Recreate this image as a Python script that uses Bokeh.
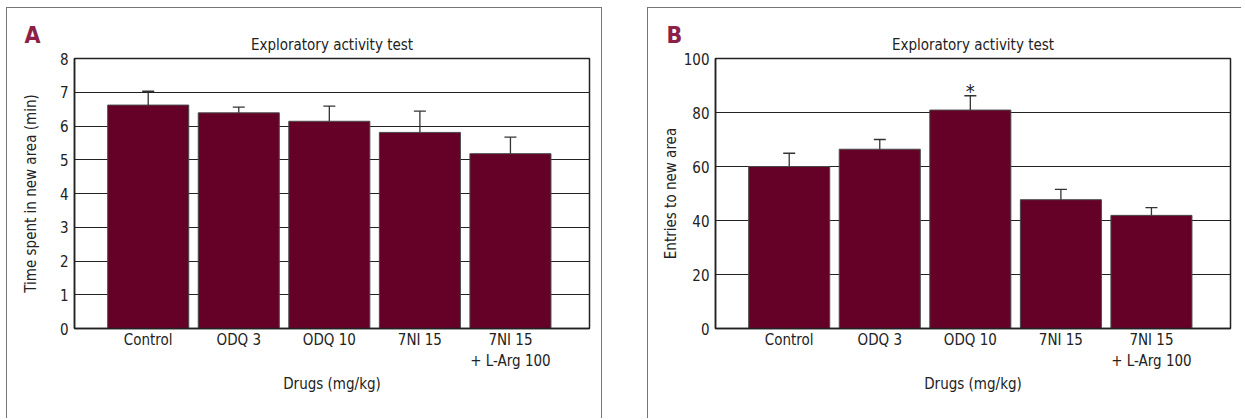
from bokeh.plotting import figure
from bokeh.layouts import row
from bokeh.models import FixedTicker, Range1d, Whisker, TeeHead, ColumnDataSource, Label, Title
from bokeh.embed import file_html
from bokeh.resources import INLINE

# ---- data ----
categories = ["Control", "ODQ 3", "ODQ 10", "7NI 15", "7NI 15\n+ L-Arg 100"]
time_mean = [6.62, 6.39, 6.14, 5.81, 5.18]
time_sem = [0.41, 0.17, 0.45, 0.63, 0.49]
entries_mean = [60.0, 66.4, 80.9, 47.7, 41.9]
entries_sem = [4.9, 3.6, 5.3, 3.8, 2.9]
time_ticks = [0, 1, 2, 3, 4, 5, 6, 7, 8]
entries_ticks = [0, 20, 40, 60, 80, 100]
signif = ["", "", "*", "", ""]

FONT = "DejaVu Sans Condensed"
BAR = "#650026"
INK = "#222222"
FS = "15px"


def panel(letter, letter_offset, means, sems, ymax, yticks, ylabel, ylab_standoff, star_y,
          right_margin, width, styles):
    xs = list(range(len(categories)))
    p = figure(width=width, height=411, output_backend="svg", toolbar_location=None,
               x_range=Range1d(-0.814, 4.873), y_range=Range1d(0, ymax),
               min_border_left=67, min_border_right=right_margin,
               min_border_top=50, min_border_bottom=91, styles=styles)
    p.add_layout(Title(text="Exploratory activity test", align="center",
                       text_font=FONT, text_font_size=FS, text_font_style="normal",
                       text_color=INK, standoff=9), "above")
    p.add_layout(Title(text=letter, align="left", offset=letter_offset,
                       text_baseline="alphabetic", standoff=-37,
                       text_font=FONT, text_font_size="23px", text_font_style="bold",
                       text_color="#8c2147"), "above")

    src = ColumnDataSource(dict(x=xs, top=means, upper=[m + s for m, s in zip(means, sems)]))
    p.vbar(x="x", top="top", bottom=0, width=0.895, source=src,
           fill_color=BAR, line_color="#4a4a4a", line_width=1)
    w = Whisker(base="x", lower="top", upper="upper", source=src, dimension="height",
                line_color="#333333", line_width=1.3, level="overlay",
                upper_head=TeeHead(size=12, line_color="#333333", line_width=1.3),
                lower_head=None)
    p.add_layout(w)

    for i, s in enumerate(signif):
        if s and star_y is not None:
            p.add_layout(Label(x=xs[i], y=star_y, text=s, text_align="center",
                               text_baseline="alphabetic", text_font=FONT,
                               text_font_size="20px", text_color=INK))

    p.xgrid.grid_line_color = None
    p.ygrid.grid_line_color = INK
    p.ygrid.grid_line_width = 1.2
    p.yaxis.ticker = FixedTicker(ticks=yticks)
    p.xaxis.ticker = FixedTicker(ticks=xs)
    p.xaxis.major_label_overrides = {i: c for i, c in enumerate(categories)}
    for ax in (p.xaxis[0], p.yaxis[0]):
        ax.major_tick_in = 0
        ax.major_tick_out = 0
        ax.minor_tick_in = 0
        ax.minor_tick_out = 0
        ax.axis_line_color = INK
        ax.axis_line_width = 1.5
        ax.major_label_text_font = FONT
        ax.major_label_text_font_size = FS
        ax.major_label_text_color = INK
        ax.axis_label_text_font = FONT
        ax.axis_label_text_font_size = FS
        ax.axis_label_text_font_style = "normal"
        ax.axis_label_text_color = INK
    p.yaxis.major_label_standoff = 6
    p.xaxis.major_label_standoff = 2
    p.xaxis.axis_label = "Drugs (mg/kg)"
    p.xaxis.axis_label_standoff = 2
    p.yaxis.axis_label = ylabel
    p.yaxis.axis_label_standoff = ylab_standoff
    p.outline_line_color = INK
    p.outline_line_width = 1.5
    return p


pa = panel("A", -50, time_mean, time_sem, 8, time_ticks, "Time spent in new area (min)", 17,
           None, 14, 596,
           {"border-left": "1px solid #777", "border-top": "1px solid #777",
            "border-right": "1px solid #777", "margin-left": "6px", "margin-top": "7px"})
pb = panel("B", -49, entries_mean, entries_sem, 100, entries_ticks, "Entries to new area", 1,
           88.0, 12, 594,
           {"border-left": "1px solid #777", "border-top": "1px solid #777",
            "margin-top": "7px"})

layout = row(pa, pb, spacing=45)
open("out.html", "w").write(file_html(layout, INLINE))
